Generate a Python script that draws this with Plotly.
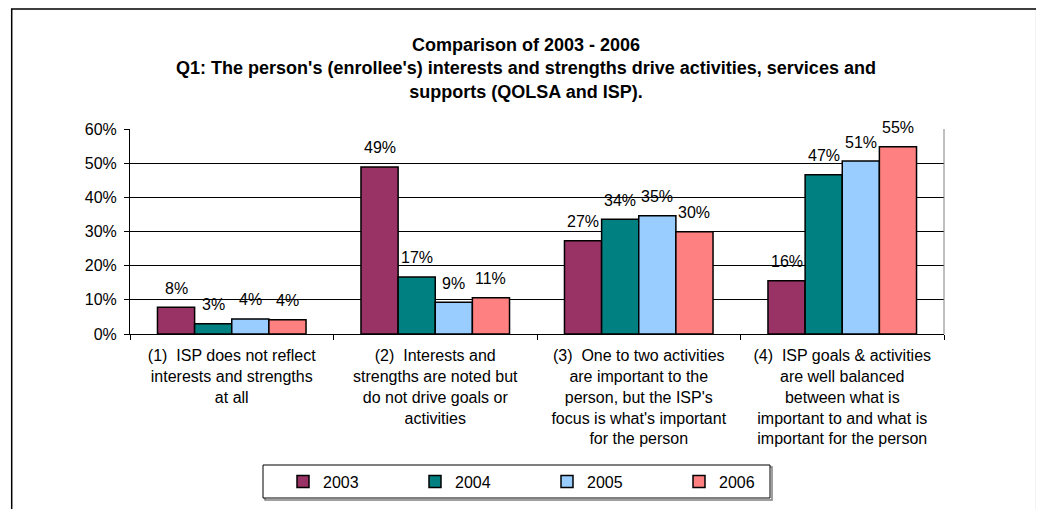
import plotly.graph_objects as go

categories = [
    "(1)  ISP does not reflect<br>interests and strengths<br>at all",
    "(2)  Interests and<br>strengths are noted but<br>do not drive goals or<br>activities",
    "(3)  One to two activities<br>are important to the<br>person, but the ISP's<br>focus is what's important<br>for the person",
    "(4)  ISP goals & activities<br>are well balanced<br>between what is<br>important to and what is<br>important for the person",
]
series_names = ["2003", "2004", "2005", "2006"]
values_2003 = [7.8, 48.9, 27.3, 15.6]
values_2004 = [3.0, 16.7, 33.6, 46.6]
values_2005 = [4.4, 9.3, 34.6, 50.6]
values_2006 = [4.2, 10.6, 29.9, 54.8]
y_tick_vals = [0, 10, 20, 30, 40, 50, 60]
y_tick_text = [f"{v}%" for v in y_tick_vals]
title_text = ("<b>Comparison of 2003 - 2006<br>"
              "Q1: The person's (enrollee's) interests and strengths drive activities, services and<br>"
              "supports (QOLSA and ISP).</b>")

colors = ["#993366", "#008080", "#99CCFF", "#FF8080"]
all_values = [values_2003, values_2004, values_2005, values_2006]

FONT = "Liberation Sans, Arial, sans-serif"
OFF = 8                      # page body margin
W, H = 1044 - OFF, 509 - OFF
ML = 130 - OFF
MT = 129 - OFF
MR = W - (944 - OFF)
MB = H - (334 - OFF)
PW = W - ML - MR
PH = H - MT - MB
BARGAP = 0.27
N_SERIES = len(series_names)
BAR_PX = PW / len(categories) * (1 - BARGAP) / N_SERIES

def px_x(x_page):
    return (x_page - OFF - ML) / PW

def px_y(y_page):
    return (H - MB - (y_page - OFF)) / PH

fig = go.Figure()
annotations = []
for i, (name, vals, col) in enumerate(zip(series_names, all_values, colors)):
    fig.add_trace(go.Bar(
        x=categories, y=vals, name=name,
        marker=dict(color=col, line=dict(color="black", width=1.5)),
        cliponaxis=False,
    ))
    for cat, v in zip(categories, vals):
        annotations.append(dict(
            x=cat, y=v, xref="x", yref="y", text=f"{v:.0f}%",
            showarrow=False, xanchor="center", yanchor="middle",
            xshift=(i - (N_SERIES - 1) / 2) * BAR_PX, yshift=19,
            font=dict(family=FONT, size=16, color="black"),
        ))

fig.update_layout(
    width=W, height=H,
    margin=dict(l=ML, r=MR, t=MT, b=MB, autoexpand=False),
    paper_bgcolor="white", plot_bgcolor="white",
    barmode="group", bargap=BARGAP, bargroupgap=0,
    font=dict(family=FONT, size=16, color="black"),
    title=dict(text=title_text, x=0.5, xanchor="center",
               y=1 - (51 - OFF) / H, yanchor="middle",
               font=dict(family=FONT, size=18, color="black")),
    showlegend=True,
    legend=dict(orientation="h", x=px_x(283), xanchor="left",
                y=px_y(481.5), yanchor="middle",
                borderwidth=0, bgcolor="rgba(0,0,0,0)",
                font=dict(family=FONT, size=16, color="black"),
                entrywidth=87, traceorder="normal"),
    xaxis=dict(showline=True, linecolor="black", linewidth=1,
               ticks="outside", tickson="boundaries", ticklen=5,
               tickcolor="black", showgrid=False, ticklabelstandoff=7,
               tickfont=dict(family=FONT, size=16, color="black")),
    yaxis=dict(range=[0, 60], tickvals=y_tick_vals, ticktext=y_tick_text,
               showline=True, linecolor="black", linewidth=1,
               ticks="outside", ticklen=5, tickcolor="black",
               showgrid=True, gridcolor="black", gridwidth=1,
               zeroline=False, ticklabelstandoff=4,
               tickfont=dict(family=FONT, size=16, color="black")),
    annotations=annotations,
    shapes=[
        dict(type="line", xref="paper", yref="paper", x0=1, x1=1, y0=0, y1=1,
             line=dict(color="#808080", width=1)),
        dict(type="rect", xref="paper", yref="paper",
             x0=px_x(11.7), x1=px_x(1036.7), y0=px_y(530), y1=px_y(OFF + 1),
             line=dict(color="black", width=1.5), layer="below"),
        # legend frame with its drop shadow
        dict(type="rect", xref="paper", yref="paper",
             x0=px_x(265), x1=px_x(772), y0=px_y(500), y1=px_y(467),
             line=dict(color="#808080", width=1.5), layer="below"),
        dict(type="rect", xref="paper", yref="paper",
             x0=px_x(263), x1=px_x(770), y0=px_y(498), y1=px_y(465),
             line=dict(color="black", width=1), fillcolor="white", layer="below"),
    ],
)

fig.write_html("out.html")
